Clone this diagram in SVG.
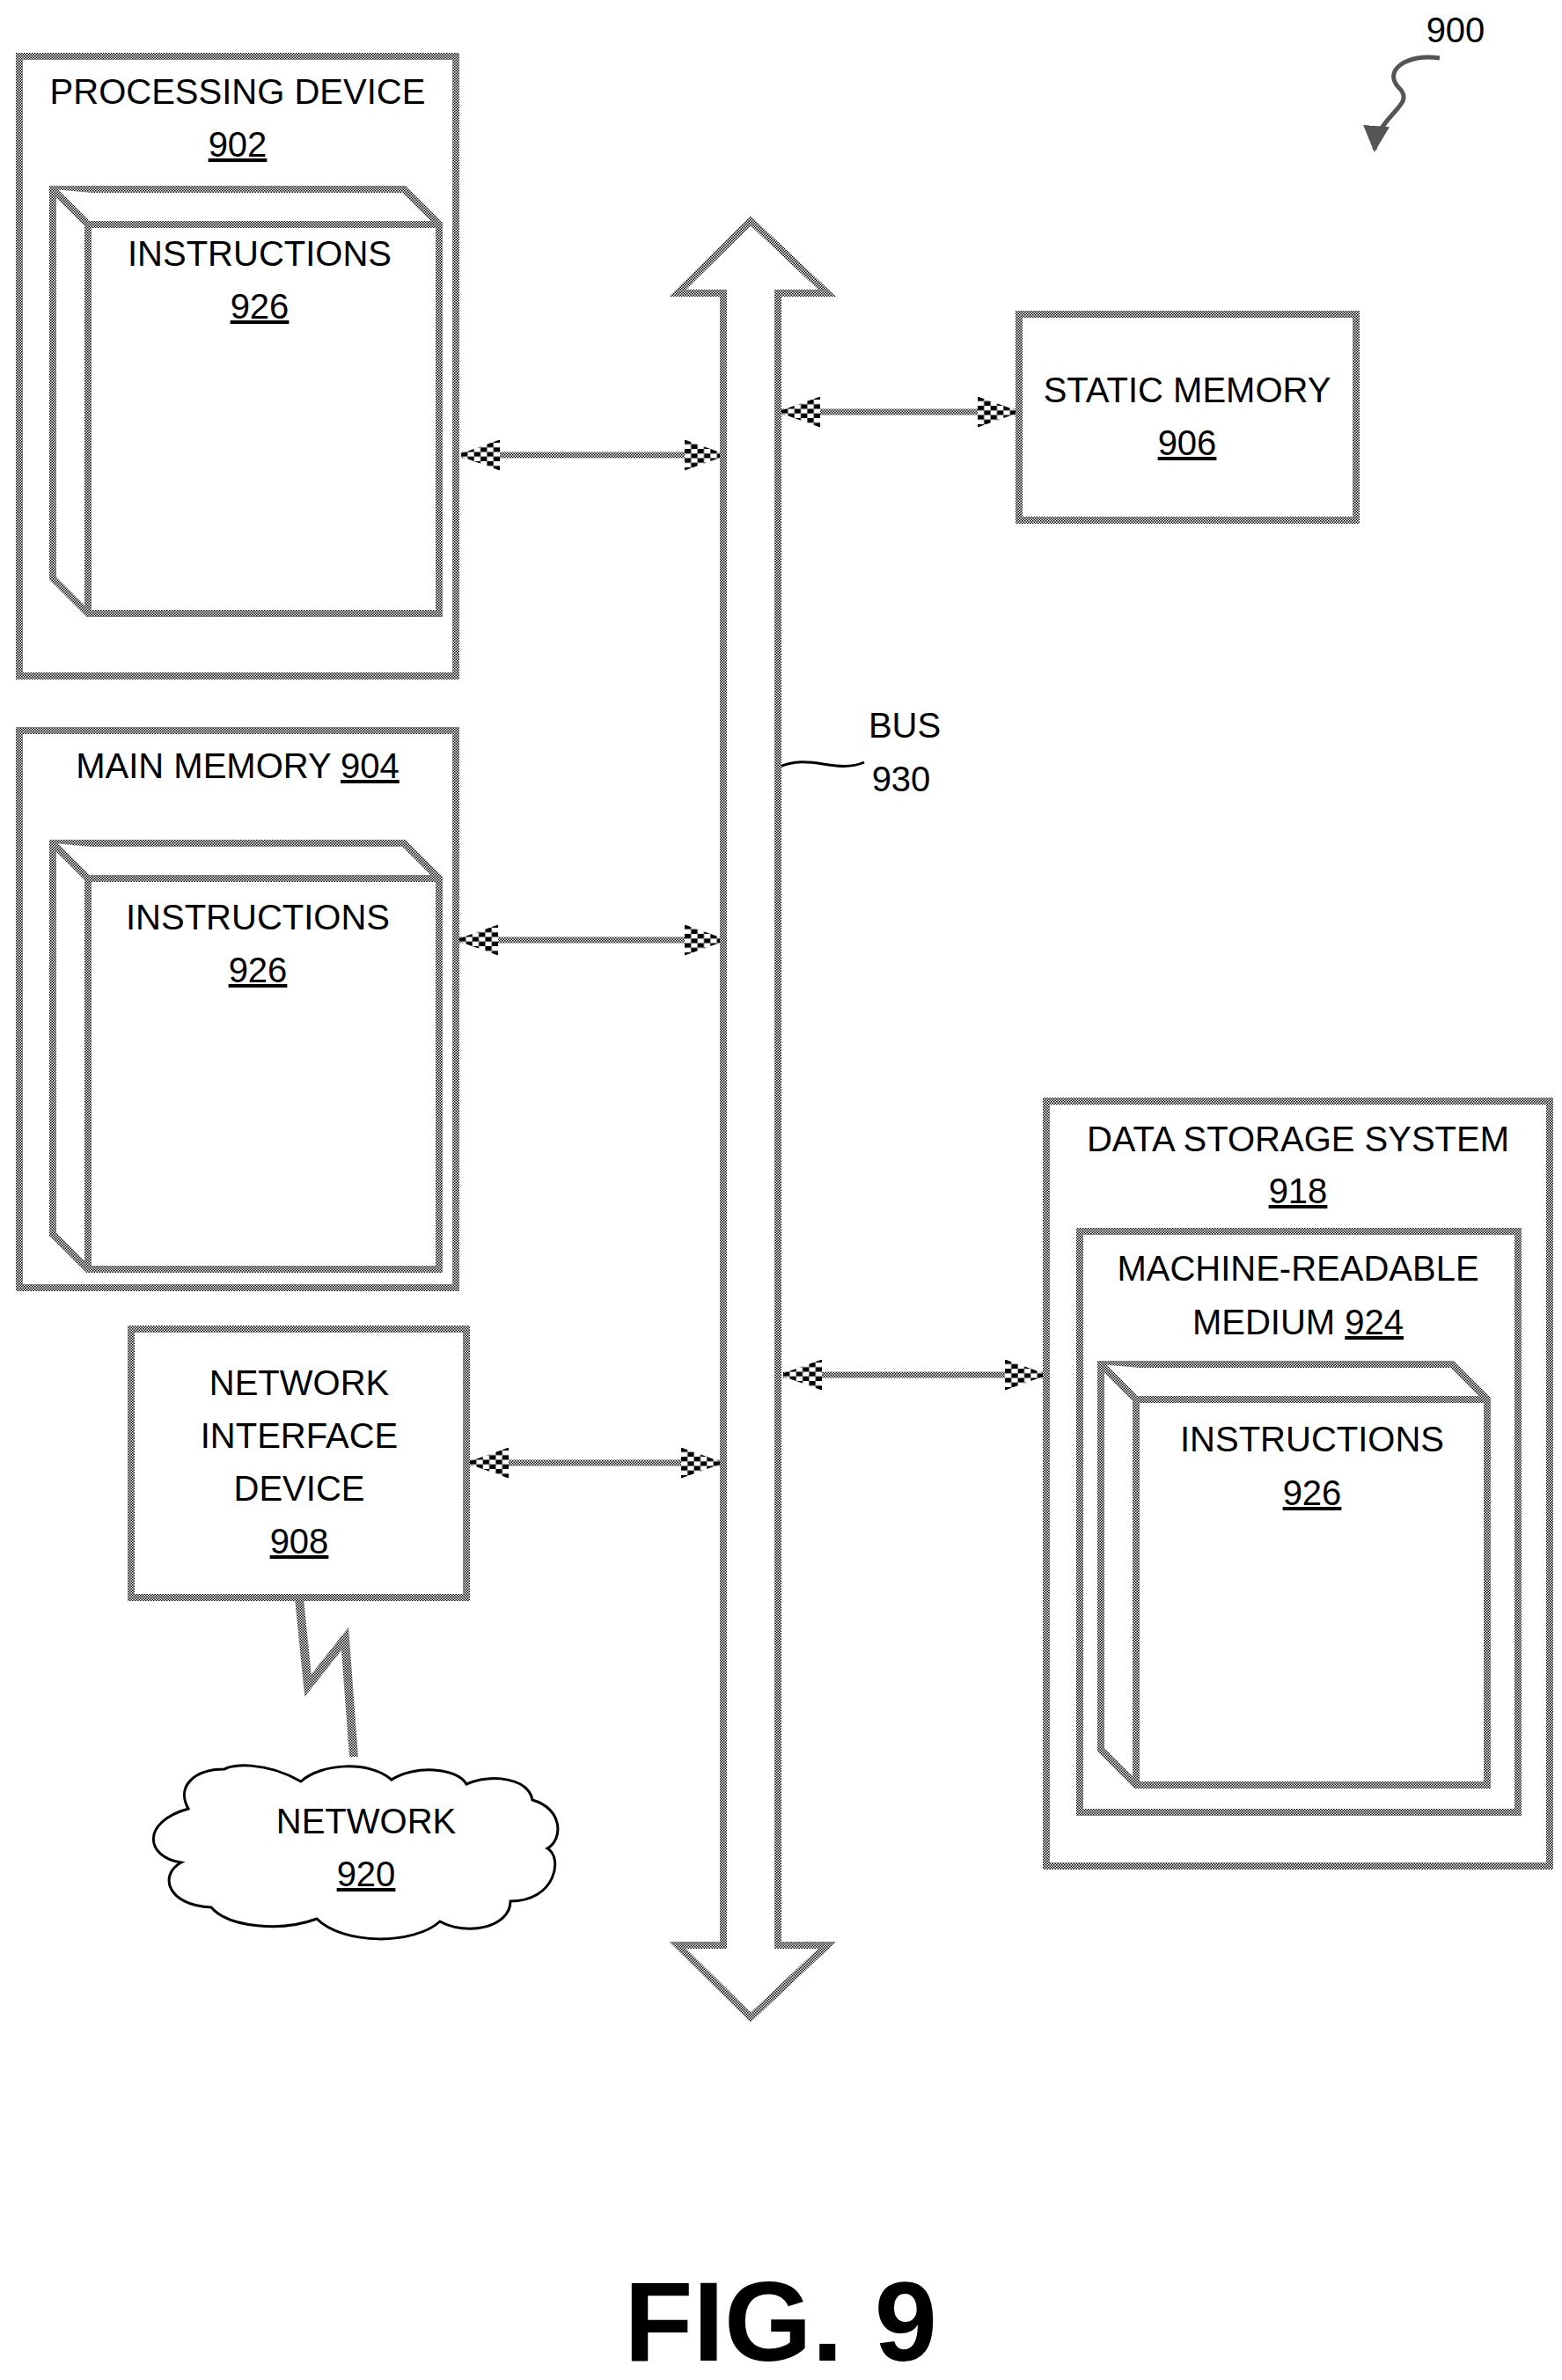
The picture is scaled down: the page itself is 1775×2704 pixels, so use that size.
<svg xmlns="http://www.w3.org/2000/svg" width="1775" height="2704" viewBox="0 0 1775 2704">
<defs>
<pattern id="chk" width="3" height="3" patternUnits="userSpaceOnUse"><rect width="3" height="3" fill="#fff"/><rect width="1.5" height="1.5" fill="#000"/><rect x="1.5" y="1.5" width="1.5" height="1.5" fill="#000"/></pattern>
<marker id="ah" viewBox="0 0 10 10" refX="9" refY="5" markerWidth="7" markerHeight="5" orient="auto-start-reverse" markerUnits="strokeWidth" preserveAspectRatio="none"><path d="M0,0 L10,5 L0,10 z" fill="url(#chk)"/></marker>
<marker id="ah2" viewBox="0 0 10 10" refX="9" refY="5" markerWidth="6" markerHeight="6" orient="auto" markerUnits="strokeWidth"><path d="M0,0 L10,5 L0,10 z" fill="#555"/></marker>
</defs>
<style>
.b{fill:#fff;stroke:url(#chk);stroke-width:8}
.c{fill:none;stroke:url(#chk);stroke-width:7;marker-start:url(#ah);marker-end:url(#ah)}
text{font-family:"Liberation Sans",Arial,sans-serif;font-size:40px;text-anchor:middle;fill:#000}
.u{text-decoration:underline}
</style>
<rect width="1775" height="2704" fill="#fff"/>
<g id="connectors">
<line class="c" x1="524" y1="517" x2="822" y2="517"/>
<line class="c" x1="888" y1="468" x2="1155" y2="468"/>
<line class="c" x1="522" y1="1068" x2="822" y2="1068"/>
<line class="c" x1="534" y1="1662" x2="818" y2="1662"/>
<line class="c" x1="890" y1="1562" x2="1186" y2="1562"/>
<path d="M340,1816 L350,1915 L392,1862 L402,1996" fill="none" stroke="url(#chk)" stroke-width="10"/>
<path d="M884,872 C920,855 950,880 982,866" fill="none" stroke="#000" stroke-width="3"/>
<path d="M1636,66 C1600,60 1570,80 1590,100 C1610,120 1565,130 1562,170" fill="none" stroke="#555" stroke-width="5" marker-end="url(#ah2)"/>
</g>
<g id="bus">
<path class="b" d="M853,251 L940,333 L884,333 L884,2210 L940,2210 L853,2292 L770,2210 L822,2210 L822,333 L770,333 Z"/>
<text x="1028" y="838">BUS</text>
<text x="1024" y="899">930</text>
</g>
<g id="processing-device">
<rect class="b" x="22" y="64" width="496" height="704"/>
<path class="b" d="M60,215 L459,215 L499,255 L499,697 L100,697 L60,657 Z"/>
<path class="b" d="M60,215 L100,255 L499,255 M100,255 L100,697"/>
<text x="270" y="118">PROCESSING DEVICE</text>
<text x="270" y="178" class="u">902</text>
<text x="295" y="302">INSTRUCTIONS</text>
<text x="295" y="362" class="u">926</text>
</g>
<g id="static-memory">
<rect class="b" x="1158" y="357" width="383" height="234"/>
<text x="1349" y="457">STATIC MEMORY</text>
<text x="1349" y="517" class="u">906</text>
</g>
<g id="main-memory">
<rect class="b" x="22" y="830" width="496" height="633"/>
<path class="b" d="M60,958 L459,958 L499,998 L499,1442 L100,1442 L60,1402 Z"/>
<path class="b" d="M60,958 L100,998 L499,998 M100,998 L100,1442"/>
<text x="270" y="884">MAIN MEMORY <tspan class="u">904</tspan></text>
<text x="293" y="1056">INSTRUCTIONS</text>
<text x="293" y="1116" class="u">926</text>
</g>
<g id="network-interface">
<rect class="b" x="149" y="1510" width="381" height="305"/>
<text x="340" y="1585">NETWORK</text>
<text x="340" y="1645">INTERFACE</text>
<text x="340" y="1705">DEVICE</text>
<text x="340" y="1765" class="u">908</text>
</g>
<g id="network">
<path d="M214,2055 C200,2030 220,2010 255,2010 C262,2005 300,2000 342,2024 C365,2003 420,2000 445,2022 C470,2005 520,2008 530,2027 C560,2015 600,2020 605,2045 C640,2055 640,2090 622,2100 C640,2110 632,2160 580,2160 C580,2190 530,2200 500,2183 C470,2210 390,2210 360,2180 C320,2195 260,2190 240,2167 C190,2165 180,2130 206,2116 C165,2110 160,2070 214,2055 Z" fill="#fff" stroke="#000" stroke-width="3"/>
<text x="416" y="2083">NETWORK</text>
<text x="416" y="2143" class="u">920</text>
</g>
<g id="data-storage">
<rect class="b" x="1189" y="1251" width="572" height="869"/>
<text x="1475" y="1308">DATA STORAGE SYSTEM</text>
<text x="1475" y="1367" class="u">918</text>
<rect class="b" x="1227" y="1399" width="498" height="660"/>
<text x="1475" y="1455">MACHINE-READABLE</text>
<text x="1475" y="1516">MEDIUM <tspan class="u">924</tspan></text>
<path class="b" d="M1251,1550 L1650,1550 L1690,1590 L1690,2028 L1291,2028 L1251,1988 Z"/>
<path class="b" d="M1251,1550 L1291,1590 L1690,1590 M1291,1590 L1291,2028"/>
<text x="1491" y="1649">INSTRUCTIONS</text>
<text x="1491" y="1710" class="u">926</text>
</g>
<text x="1654" y="48">900</text>
<text x="887" y="2682" style="font-size:128px;font-weight:bold">FIG. 9</text>
</svg>
